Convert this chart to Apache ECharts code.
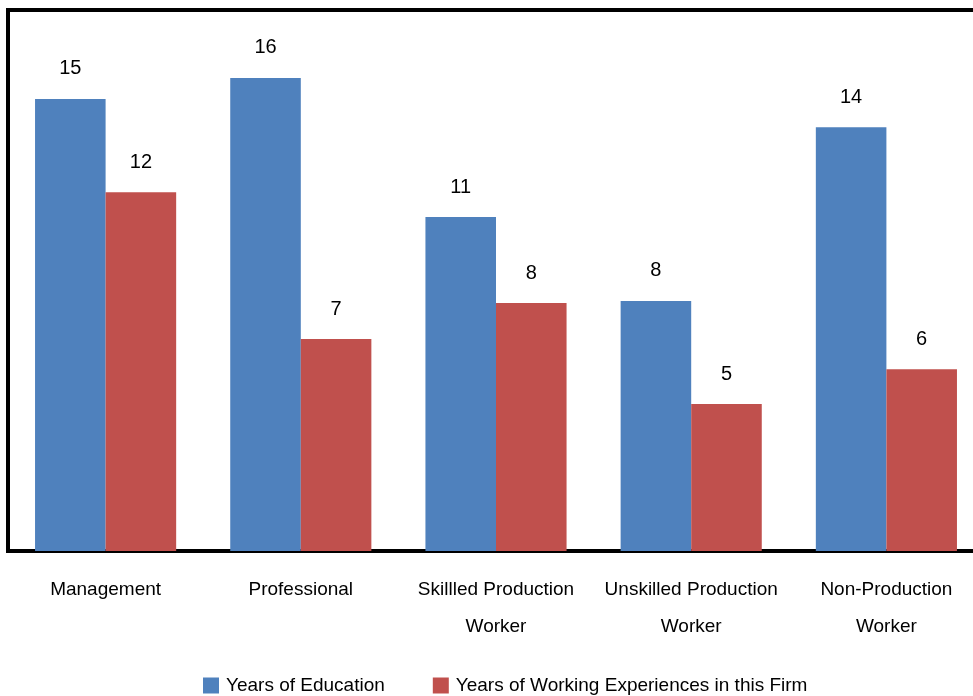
<!DOCTYPE html>
<html>
<head>
<meta charset="utf-8">
<script src="https://cdn.jsdelivr.net/npm/echarts@6/dist/echarts.min.js"></script>
<style>
    html, body {margin: 0; padding: 0; background: #fff;}
    #et1 {width: 973px; height: 696px;}
</style>
</head>
<body>
<div id="et1"></div>
<script>
var categories = ['Management', 'Professional', 'Skillled Production\nWorker', 'Unskilled Production\nWorker', 'Non-Production\nWorker'];
var education = [15.04, 15.74, 11.11, 8.32, 14.1];
var experience = [11.94, 7.05, 8.25, 4.89, 6.05];

~function () {
    var myChart = echarts.init(et1);
    var labelStyle = {
        show: true,
        position: 'top',
        distance: 20,
        color: '#000',
        fontFamily: 'Liberation Sans',
        fontSize: 20,
        formatter: function (p) {
            return Math.round(p.value);
        }
    };
    var option = {
        animation: false,
        textStyle: {fontFamily: 'Liberation Sans'},
        legend: {
            data: ['Years of Education', 'Years of Working Experiences in this Firm'],
            bottom: -4,
            left: 198,
            itemWidth: 16,
            itemHeight: 16,
            itemGap: 48,
            icon: 'rect',
            textStyle: {fontSize: 19, color: '#000', padding: [0, 0, 0, 2]}
        },
        grid: {
            show: true,
            left: 8,
            top: 10,
            width: 976,
            height: 541,
            outerBoundsMode: 'none',
            containLabel: false,
            borderColor: '#000',
            borderWidth: 4,
            backgroundColor: '#fff'
        },
        xAxis: [
            {
                type: 'category',
                data: categories,
                axisLine: {show: false},
                axisTick: {show: false},
                axisLabel: {
                    margin: 20,
                    color: '#000',
                    fontSize: 19,
                    lineHeight: 37,
                    interval: 0
                }
            }
        ],
        yAxis: [
            {
                type: 'value',
                min: 0,
                max: 18,
                show: false
            }
        ],
        series: [
            {
                name: 'Years of Education',
                type: 'bar',
                data: education,
                barGap: '0%',
                barCategoryGap: '27.7%',
                itemStyle: {color: '#4F81BD'},
                label: labelStyle
            },
            {
                name: 'Years of Working Experiences in this Firm',
                type: 'bar',
                data: experience,
                itemStyle: {color: '#C0504D'},
                label: labelStyle
            }
        ]
    };
    myChart.setOption(option);
}();
</script>
</body>
</html>
